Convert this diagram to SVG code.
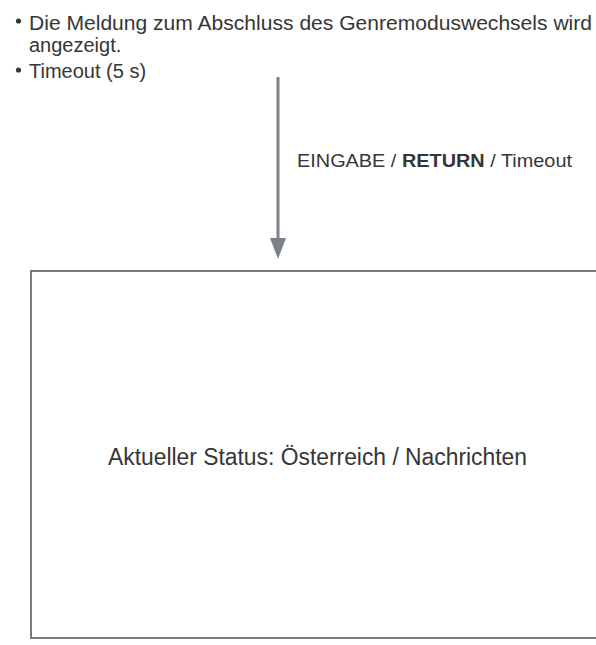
<svg xmlns="http://www.w3.org/2000/svg" width="596" height="645" viewBox="0 0 596 645">
<style>
text{font-family:"Liberation Sans",Arial,sans-serif;fill:#363636}
.note{font-size:20px}
.lbl{font-size:18.5px}
.state{font-size:23px}
.conn{stroke:#7c8189;stroke-width:3;fill:none}
.box{fill:#fff;stroke:#7a7a7a;stroke-width:2}
</style>
<rect width="596" height="645" fill="#fff"/>
<g id="notes">
<circle cx="18.5" cy="21" r="2.6" fill="#363636"/>
<text class="note" x="29" y="30" textLength="563" lengthAdjust="spacingAndGlyphs">Die Meldung zum Abschluss des Genremoduswechsels wird</text>
<text class="note" x="29" y="52">angezeigt.</text>
<circle cx="18.5" cy="70" r="2.6" fill="#363636"/>
<text class="note" x="29" y="78">Timeout (5 s)</text>
</g>
<g id="connectors">
<line class="conn" x1="278" y1="77" x2="278" y2="242"/>
<path d="M270,238 L286,238 L278,259 Z" fill="#7c8189"/>
<text class="lbl" x="297" y="167" textLength="275" lengthAdjust="spacingAndGlyphs">EINGABE / <tspan font-weight="bold">RETURN</tspan> / Timeout</text>
</g>
<g id="state">
<rect class="box" x="31" y="271" width="580" height="367"/>
<text class="state" x="108" y="465" textLength="419" lengthAdjust="spacingAndGlyphs">Aktueller Status: Österreich / Nachrichten</text>
</g>
</svg>
